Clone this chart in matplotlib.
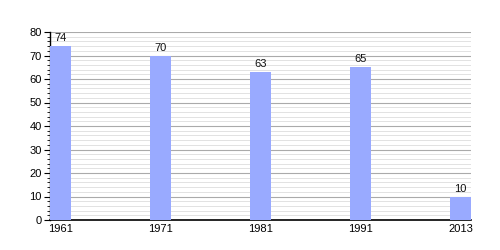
import matplotlib
matplotlib.use("Agg")
import matplotlib.pyplot as plt
from matplotlib.ticker import MultipleLocator

years = ["1961", "1971", "1981", "1991", "2013"]
values = [74, 70, 63, 65, 10]

BAR = "#99AAFF"
plt.rcParams["font.family"] = ["Liberation Sans", "DejaVu Sans"]

fig = plt.figure(figsize=(5, 2.5), dpi=100)
ax = fig.add_axes([0.1, 0.12, 0.842, 0.752])

x = list(range(len(years)))
ax.bar(x, values, width=0.21, color=BAR, zorder=3)
for xi, v in zip(x, values):
    ax.text(xi, v + 1.2, str(v), ha="center", va="bottom", fontsize=8, color="#111111")

ax.set_xlim(-0.105, 4.105)
ax.set_ylim(0, 80)
ax.set_xticks(x)
ax.set_xticklabels(years)
ax.yaxis.set_major_locator(MultipleLocator(10))
ax.yaxis.set_minor_locator(MultipleLocator(2))
ax.grid(True, axis="y", which="major", color="#aaaaaa", linewidth=0.8, zorder=1)
ax.grid(True, axis="y", which="minor", color="#dddddd", linewidth=0.6, zorder=1)

for side in ["top", "right"]:
    ax.spines[side].set_visible(False)
ax.spines["left"].set_linewidth(1.0)
ax.spines["bottom"].set_linewidth(1.2)
ax.tick_params(axis="y", which="major", length=4, width=0.8, labelsize=8, pad=2)
ax.tick_params(axis="y", which="minor", length=2, width=0.6)
ax.tick_params(axis="x", length=0, labelsize=8, pad=3)

fig.savefig("out.png", dpi=100)
